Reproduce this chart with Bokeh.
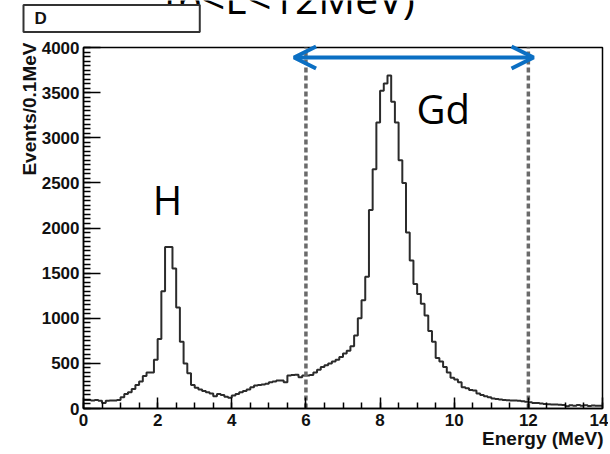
import math
from bokeh.plotting import figure
from bokeh.models import Label, Arrow, OpenHead, Range1d, SingleIntervalTicker
from bokeh.embed import file_html
from bokeh.resources import INLINE

# ---- data: events per 0.1 MeV bin, from 0 to 14 MeV ----
bin_width = 0.1
counts = [
    95, 95, 90, 95, 85, 60, 85, 90, 90, 95,            # 0.0 - 0.9
    125, 160, 180, 215, 260, 300, 360, 400, 400, 540,  # 1.0 - 1.9
    770, 1300, 1790, 1790, 1550, 1120, 740, 500, 390, 260,  # 2.0 - 2.9
    230, 210, 195, 180, 165, 135, 160, 150, 130, 120,  # 3.0 - 3.9
    145, 160, 180, 195, 210, 235, 255, 260, 265, 275,  # 4.0 - 4.9
    290, 300, 310, 310, 290, 365, 370, 375, 345, 365,  # 5.0 - 5.9
    365, 370, 400, 430, 460, 480, 500, 520, 540, 570,  # 6.0 - 6.9
    610, 640, 690, 810, 1000, 1200, 1460, 2200, 2650, 3170,  # 7.0 - 7.9
    3520, 3600, 3690, 3400, 3170, 2750, 2500, 1950, 1640, 1380,  # 8.0 - 8.9
    1270, 1160, 1030, 860, 740, 560, 520, 460, 400, 340,  # 9.0 - 9.9
    320, 290, 235, 225, 205, 200, 165, 150, 135, 125,  # 10.0 - 10.9
    110, 105, 100, 95, 92, 90, 88, 85, 80, 75,         # 11.0 - 11.9
    70, 60, 62, 55, 50, 48, 45, 45, 42, 40,            # 12.0 - 12.9
    25, 35, 30, 40, 30, 35, 28, 32, 30, 30,            # 13.0 - 13.9
]
edges = [round(i * bin_width, 1) for i in range(len(counts) + 1)]

x_tick_interval = 2
y_tick_interval = 500
x_max = 14
y_max = 4000

window_lo, window_hi = 6, 12          # selection window (MeV)
arrow_x0, arrow_x1, arrow_y = 5.68, 12.14, 3890

title_text = "(6<E<12MeV)"
y_label = "Events/0.1MeV"
x_label = "Energy (MeV)"

BLUE = "#0B6FC3"
ROOT_FONT = "Liberation Sans"
INK = "#111111"

# ---- layout (pixels) ----
W, H = 608, 452
FRAME_L, FRAME_R, FRAME_T, FRAME_B = 83, 602, 47, 408
px_x = (FRAME_R - FRAME_L) / x_max
px_y = (FRAME_B - FRAME_T) / y_max
x_lo, x_hi = -FRAME_L / px_x, x_max + (W - FRAME_R) / px_x
y_lo, y_hi = -(H - FRAME_B) / px_y, y_max + FRAME_T / px_y


def sy(page_y):
    return H - page_y


p = figure(width=W, height=H, output_backend="svg", toolbar_location=None,
           x_range=Range1d(x_lo, x_hi), y_range=Range1d(y_lo, y_hi),
           min_border=0, min_border_left=0, min_border_right=0,
           min_border_top=0, min_border_bottom=0)
p.xgrid.visible = False
p.ygrid.visible = False
p.outline_line_color = None
p.background_fill_color = "white"
p.border_fill_color = "white"

# histogram frame box
p.quad(left=[0], right=[x_max], bottom=[0], top=[y_max], fill_color=None,
       line_color="black", line_width=1.5)

# histogram
p.step(edges, counts + [counts[-1]], mode="after", line_color="#2b2b2b",
       line_width=2)

# axes, drawn at the origin of the histogram frame
p.xaxis.fixed_location = 0
p.yaxis.fixed_location = 0
p.xaxis.bounds = (0, x_max)
p.yaxis.bounds = (0, y_max)
p.xaxis.ticker = SingleIntervalTicker(interval=x_tick_interval, num_minor_ticks=4)
p.yaxis.ticker = SingleIntervalTicker(interval=y_tick_interval, num_minor_ticks=10)
for ax, tin, mtin in ((p.xaxis, 11, 6), (p.yaxis, 17, 7)):
    ax.major_tick_in = tin
    ax.major_tick_out = 0
    ax.minor_tick_in = mtin
    ax.minor_tick_out = 0
    ax.axis_line_width = 1.5
    ax.axis_line_color = "black"
    ax.major_tick_line_width = 1.5
    ax.minor_tick_line_width = 1.5
    ax.major_label_text_font = ROOT_FONT
    ax.major_label_text_font_style = "bold"
    ax.major_label_text_font_size = "17px"
    ax.major_label_text_color = INK
p.xaxis.major_label_standoff = 5
p.yaxis.major_label_standoff = 4

# selection window
p.segment(x0=[window_lo, window_hi], y0=[0, 0], x1=[window_lo, window_hi],
          y1=[y_max, y_max], line_color="#6a6a6a", line_width=3.5,
          line_dash="5 3")

head_kw = dict(size=22, line_width=4, line_color=BLUE)
p.add_layout(Arrow(x_start=arrow_x0, y_start=arrow_y, x_end=arrow_x1, y_end=arrow_y,
                   start=OpenHead(**head_kw), end=OpenHead(**head_kw),
                   line_width=4, line_color=BLUE))

# texts (screen units: from canvas left and canvas bottom)
p.add_layout(Label(x=29, y=sy(42), x_units="screen", y_units="screen",
                   text=y_label, angle=math.pi / 2, text_align="right",
                   text_baseline="middle", text_font=ROOT_FONT,
                   text_font_style="bold", text_font_size="19px",
                   text_color=INK))
p.add_layout(Label(x=603, y=sy(438), x_units="screen", y_units="screen",
                   text=x_label, text_align="right", text_baseline="middle",
                   text_font=ROOT_FONT, text_font_style="bold",
                   text_font_size="19px", text_color=INK))
p.add_layout(Label(x=167, y=sy(198.5), x_units="screen", y_units="screen",
                   text="H", text_align="center", text_baseline="middle",
                   text_font="Open Sans", text_font_size="40px", text_color="black"))
p.add_layout(Label(x=416, y=sy(108), x_units="screen", y_units="screen",
                   text="Gd", text_align="left", text_baseline="middle",
                   text_font="Open Sans", text_font_size="40px", text_color="black"))
p.add_layout(Label(x=290, y=sy(-3), x_units="screen", y_units="screen",
                   text=title_text, text_align="center", text_baseline="middle",
                   text_font="Open Sans", text_font_size="41px", text_color="black"))
p.add_layout(Label(x=23, y=sy(18), x_units="screen", y_units="screen",
                   text="D", text_align="left", text_baseline="middle",
                   text_font=ROOT_FONT, text_font_style="bold", text_font_size="17px",
                   text_color=INK, border_line_color="#333333",
                   border_line_width=2, background_fill_color="white",
                   padding=dict(left=11, right=153, top=4, bottom=4)))

open("out.html", "w").write(file_html(p, INLINE))
